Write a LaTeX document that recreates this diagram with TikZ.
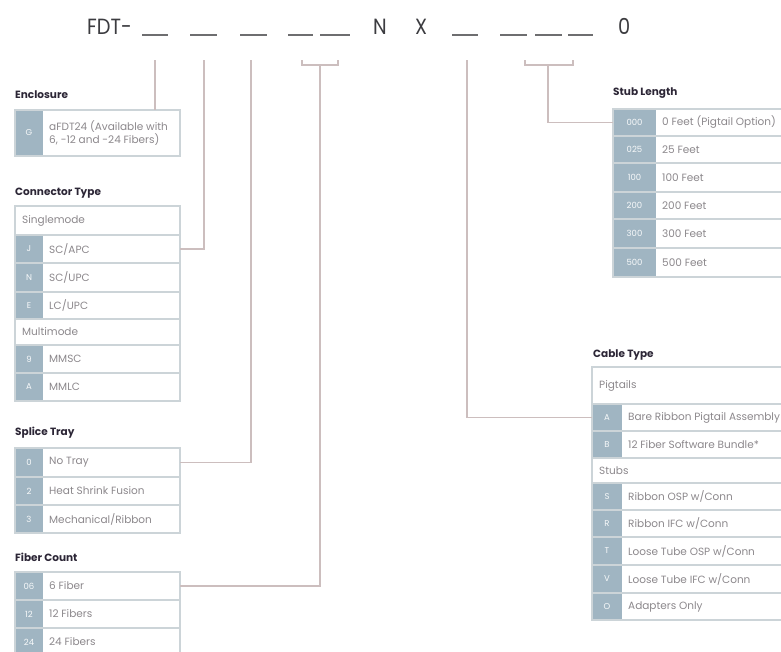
\documentclass[tikz,border=0pt]{standalone}
\usepackage{fontspec}
\setmainfont{Poppins}
\newfontfamily\titlefont[FakeStretch=0.88]{Poppins}
\definecolor{boxc}{RGB}{204,212,216}
\definecolor{codef}{RGB}{160,181,194}
\definecolor{rowc}{RGB}{140,136,140}
\definecolor{ttlc}{RGB}{44,38,54}
\definecolor{linkc}{RGB}{204,190,190}
\definecolor{bigc}{RGB}{60,60,64}
\definecolor{undc}{RGB}{110,110,112}
\tikzset{
  cellbox/.style={draw=boxc, line width=1.2pt, anchor=north west, inner sep=0pt, outer sep=0pt},
  codecell/.style={fill=codef, anchor=north west, inner sep=0pt, outer sep=0pt, text=white!92!codef, font=\fontsize{8.5}{9}\selectfont},
  rowtext/.style={anchor=west, text=rowc, font=\fontsize{10.5}{13.5}\selectfont, inner sep=0pt, align=left},
  ttl/.style={anchor=west, font=\bfseries\fontsize{10.5}{12}\selectfont, text=ttlc, inner sep=0pt},
  link/.style={draw=linkc, line width=1.1pt},
  big/.style={anchor=base west, inner sep=0pt, text=bigc, font=\titlefont\fontsize{22}{24}\selectfont},
  und/.style={draw=undc, line width=2.2pt}
}
% name, x, top, width, height, codewidth, code, text
\newcommand\crow[8]{%
  \node[codecell, minimum width=#6pt, minimum height=#5pt] (#1c) at (#2,#3) {#7};
  \node[cellbox, minimum width=#4pt, minimum height=#5pt] (#1) at (#2,#3) {};
  \node[rowtext] (#1t) at ([xshift=#6pt+6pt]#1.west) {#8};
}
% name, x, top, width, height, text
\newcommand\hrow[6]{%
  \node[cellbox, minimum width=#4pt, minimum height=#5pt] (#1) at (#2,#3) {};
  \node[rowtext] (#1t) at ([xshift=7pt]#1.west) {#6};
}
\begin{document}
\begin{tikzpicture}[x=1pt,y=-1pt]
\useasboundingbox[fill=white] (0,0) rectangle (781,651);
\begin{scope}
\clip (0,0) rectangle (781,651);
% ---- part number ----
\node[big] (fdt) at (87,34) {FDT-};
\node[big] (bn) at (373,34) {N};
\node[big] (bx) at (415,34) {X};
\node[big] (bz) at (618,34) {0};
\foreach \a/\b in {142/168,190/217,240/267,288/313,320/350,452/478,500/527,535/562,568/593}
  \draw[und] (\a,35) -- (\b,35);
% ---- titles ----
\node[ttl] (tEnc) at (15,95) {Enclosure};
\node[ttl] (tCon) at (15,193) {Connector Type};
\node[ttl] (tSpl) at (15,433) {Splice Tray};
\node[ttl] (tFib) at (15,557) {Fiber Count};
\node[ttl] (tStub) at (613,93) {Stub Length};
\node[ttl] (tCab) at (593,355) {Cable Type};
% ---- enclosure ----
\crow{encG}{15}{110}{165}{46}{28}{G}{aFDT24 (Available with\\6, -12 and -24 Fibers)}
% ---- connector type ----
\hrow{ctS}{15}{206}{165}{29}{Singlemode}
\crow{ctJ}{15}{235}{165}{28}{28}{J}{SC/APC}
\crow{ctN}{15}{263}{165}{29}{28}{N}{SC/UPC}
\crow{ctE}{15}{292}{165}{27}{28}{E}{LC/UPC}
\hrow{ctM}{15}{319}{165}{26}{Multimode}
\crow{ct9}{15}{345}{165}{28}{28}{9}{MMSC}
\crow{ctA}{15}{373}{165}{28}{28}{A}{MMLC}
% ---- splice tray ----
\crow{st0}{15}{448}{165}{29}{28}{0}{No Tray}
\crow{st2}{15}{477}{165}{28}{28}{2}{Heat Shrink Fusion}
\crow{st3}{15}{505}{165}{28}{28}{3}{Mechanical/Ribbon}
% ---- fiber count ----
\crow{fc06}{15}{572}{165}{28}{28}{06}{6 Fiber}
\crow{fc12}{15}{600}{165}{28}{28}{12}{12 Fibers}
\crow{fc24}{15}{628}{165}{28}{28}{24}{24 Fibers}
% ---- stub length ----
\crow{sl000}{613}{109}{200}{27}{43}{000}{0 Feet (Pigtail Option)}
\crow{sl025}{613}{136}{200}{27}{43}{025}{25 Feet}
\crow{sl100}{613}{163}{200}{29}{43}{100}{100 Feet}
\crow{sl200}{613}{192}{200}{27}{43}{200}{200 Feet}
\crow{sl300}{613}{219}{200}{29}{43}{300}{300 Feet}
\crow{sl500}{613}{248}{200}{29}{43}{500}{500 Feet}
% ---- cable type ----
\hrow{cbP}{592}{367}{220}{37}{Pigtails}
\crow{cbA}{592}{404}{220}{27}{30}{A}{Bare Ribbon Pigtail Assembly}
\crow{cbB}{592}{431}{220}{27}{30}{B}{12 Fiber Software Bundle*}
\hrow{cbSt}{592}{458}{220}{25}{Stubs}
\crow{cbS}{592}{483}{220}{27}{30}{S}{Ribbon OSP w/Conn}
\crow{cbR}{592}{510}{220}{27}{30}{R}{Ribbon IFC w/Conn}
\crow{cbT}{592}{537}{220}{28}{30}{T}{Loose Tube OSP w/Conn}
\crow{cbV}{592}{565}{220}{28}{30}{V}{Loose Tube IFC w/Conn}
\crow{cbO}{592}{593}{220}{27}{30}{O}{Adapters Only}
% ---- connectors ----
\coordinate (pEnc) at (155,60);
\coordinate (pCon) at (204,60);
\coordinate (pSpl) at (251,60);
\coordinate (pFib) at (320,65);
\coordinate (pCab) at (467,60);
\coordinate (pStub) at (548,65);
\draw[link] (pEnc) -- (pEnc |- encG.north);
\draw[link] (pCon) |- (ctJ.east);
\draw[link] (pSpl) |- (st0.east);
\draw[link] (302,60) -- (302,65) -- (338,65) -- (338,60);
\draw[link] (pFib) |- (fc06.east);
\draw[link] (pCab) |- (cbA.west);
\draw[link] (525,60) -- (525,65) -- (573,65) -- (573,60);
\draw[link] (pStub) |- (sl000.west);
\end{scope}
\end{tikzpicture}
\end{document}
